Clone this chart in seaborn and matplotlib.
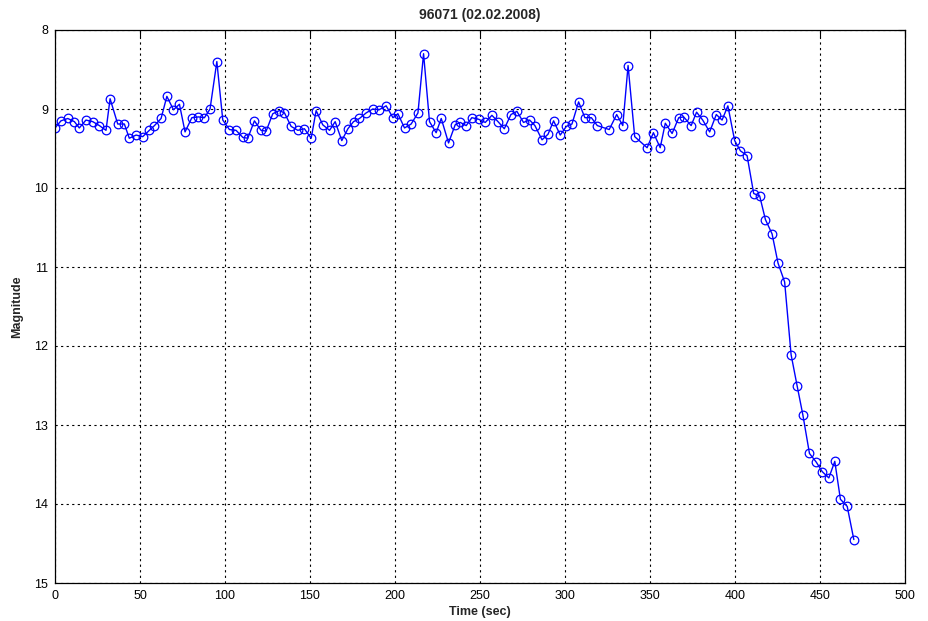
import matplotlib
matplotlib.use("Agg")
import matplotlib.pyplot as plt
import seaborn as sns
import pandas as pd

# Light curve of object 96071 observed on 02.02.2008
time_sec = [
    0.0, 3.5, 7.5, 11.4, 14.3, 18.2, 22.2, 26.1, 30.0, 32.4,
    36.9, 40.8, 43.7, 47.7, 51.6, 55.5, 58.5, 62.4, 65.8, 69.7,
    73.2, 76.5, 80.5, 84.4, 87.9, 91.2, 95.2, 98.7, 102.6, 106.5,
    110.5, 113.4, 117.3, 121.2, 124.2, 128.1, 132.0, 135.0, 138.9, 142.8,
    146.7, 150.7, 153.6, 157.5, 161.5, 164.8, 168.7, 172.3, 175.6, 179.1,
    183.0, 186.9, 190.6, 194.8, 198.8, 201.7, 205.6, 209.5, 213.5, 216.8,
    220.3, 224.2, 227.2, 231.5, 235.4, 238.4, 241.9, 245.2, 249.2, 253.1,
    257.0, 260.6, 264.3, 268.2, 271.7, 275.6, 279.2, 282.3, 286.5, 290.0,
    293.3, 297.2, 300.8, 304.1, 308.0, 311.7, 315.5, 319.0, 326.0, 330.4,
    334.0, 337.1, 341.0, 348.3, 352.0, 356.0, 359.0, 363.0, 366.9, 369.8,
    374.2, 377.4, 381.0, 385.1, 389.0, 392.4, 395.8, 399.8, 403.2, 407.1,
    411.0, 414.5, 417.9, 421.8, 425.3, 429.2, 433.0, 436.5, 439.9, 443.8,
    447.8, 451.3, 455.2, 458.7, 462.0, 466.0, 469.9,
]
magnitude = [
    9.24, 9.15, 9.12, 9.16, 9.24, 9.14, 9.16, 9.21, 9.27, 8.87,
    9.19, 9.19, 9.37, 9.33, 9.35, 9.27, 9.21, 9.12, 8.84, 9.01,
    8.94, 9.29, 9.11, 9.10, 9.11, 9.00, 8.40, 9.14, 9.26, 9.27,
    9.36, 9.37, 9.15, 9.27, 9.28, 9.06, 9.02, 9.05, 9.22, 9.27,
    9.25, 9.37, 9.02, 9.20, 9.27, 9.16, 9.40, 9.25, 9.16, 9.12,
    9.05, 9.00, 9.01, 8.96, 9.11, 9.06, 9.24, 9.19, 9.05, 8.30,
    9.16, 9.30, 9.12, 9.43, 9.20, 9.17, 9.21, 9.11, 9.13, 9.17,
    9.08, 9.16, 9.25, 9.07, 9.03, 9.17, 9.14, 9.21, 9.39, 9.32,
    9.15, 9.33, 9.22, 9.19, 8.91, 9.11, 9.11, 9.21, 9.26, 9.07,
    9.21, 8.45, 9.35, 9.49, 9.30, 9.49, 9.18, 9.31, 9.11, 9.10,
    9.21, 9.04, 9.14, 9.29, 9.07, 9.14, 8.96, 9.40, 9.53, 9.59,
    10.07, 10.10, 10.40, 10.58, 10.95, 11.19, 12.11, 12.50, 12.87, 13.36,
    13.47, 13.59, 13.67, 13.46, 13.94, 14.03, 14.45,
]
x_ticks = [0, 50, 100, 150, 200, 250, 300, 350, 400, 450, 500]
y_ticks = [8, 9, 10, 11, 12, 13, 14, 15]

sns.set_style("white")
plt.rcParams["font.family"] = ["Liberation Sans", "DejaVu Sans"]

df = pd.DataFrame({"Time (sec)": time_sec, "Magnitude": magnitude})

fig = plt.figure(figsize=(9.29, 6.21), dpi=100)
ax = fig.add_axes([55 / 929, 1 - 583 / 621, 850 / 929, 553 / 621])

sns.lineplot(
    data=df, x="Time (sec)", y="Magnitude", ax=ax, estimator=None, sort=False,
    color="#0000ff", linewidth=1.0, marker="o", markersize=6.2,
    markerfacecolor="none", markeredgecolor="#0000ff", markeredgewidth=0.9,
)

ax.set_xlim(0, 500)
ax.set_ylim(15, 8)
ax.set_xticks(x_ticks)
ax.set_yticks(y_ticks)
ax.grid(True, color="black", linestyle=(0, (2, 3)), linewidth=0.8)
ax.tick_params(direction="in", length=5, width=0.8, top=True, right=True,
               labelsize=9, colors="black", pad=5)
for s in ax.spines.values():
    s.set_color("black")
    s.set_linewidth(0.9)

ax.set_title("96071 (02.02.2008)", fontsize=10, fontweight="bold", pad=8)
ax.set_xlabel("Time (sec)", fontsize=9, fontweight="bold", labelpad=3)
ax.set_ylabel("Magnitude", fontsize=9, fontweight="bold", labelpad=8)

fig.savefig("out.png", dpi=100, facecolor="white")
